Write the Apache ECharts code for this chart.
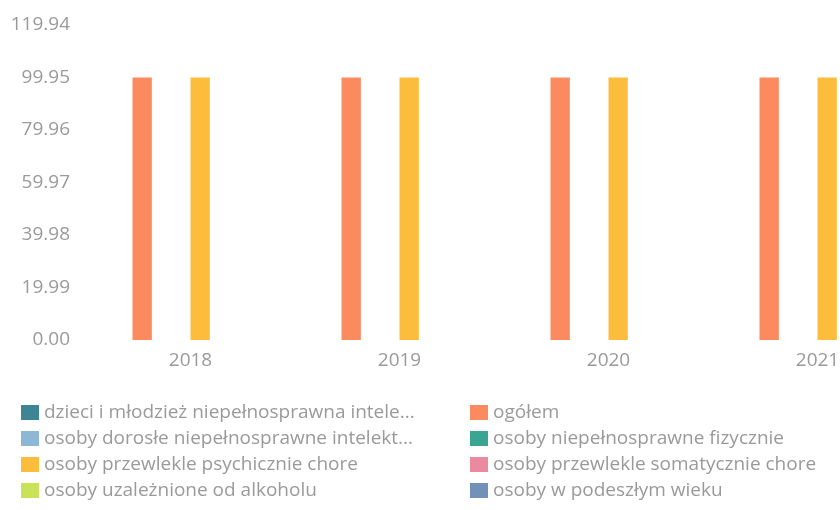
<!DOCTYPE html>
<html>
<head>
<meta charset="utf-8">
<script src="https://cdn.jsdelivr.net/npm/echarts@6/dist/echarts.min.js"></script>
<style>
  html, body { margin: 0; padding: 0; background: #fff; overflow: hidden; }
  /* wider than the window: the last category runs off the right edge */
  #chart { width: 922px; height: 510px; }
</style>
</head>
<body>
<div id="chart"></div>
<script>
// categories
var years = ['2018', '2019', '2020', '2021'];

// series names (alphabetical, as in the legend)
var names = [
  'dzieci i młodzież niepełnosprawna intelektualnie',
  'ogółem',
  'osoby dorosłe niepełnosprawne intelektualnie',
  'osoby niepełnosprawne fizycznie',
  'osoby przewlekle psychicznie chore',
  'osoby przewlekle somatycznie chore',
  'osoby uzależnione od alkoholu',
  'osoby w podeszłym wieku'
];
var colors = ['#3d8595', '#fb8a5f', '#8cb8d6', '#3aa592', '#fdbd3c', '#ea8aa0', '#c8e35a', '#7191b8'];

// values (only two series carry data)
var dzieci = [null, null, null, null];
var ogolem = [99.95, 99.95, 99.95, 99.95];
var dorosle = [null, null, null, null];
var fizycznie = [null, null, null, null];
var psychicznie = [99.95, 99.95, 99.95, 99.95];
var somatycznie = [null, null, null, null];
var alkohol = [null, null, null, null];
var wiek = [null, null, null, null];
var values = [dzieci, ogolem, dorosle, fizycznie, psychicznie, somatycznie, alkohol, wiek];

// y axis ticks
var yMax = 119.94;
var yStep = 19.99;

var chart = echarts.init(document.getElementById('chart'));
var font = 'Open Sans';
var grey = '#9a9a9a';
var fs = 19;

function cut(name, w) {
  return { name: name, textStyle: { width: w, overflow: 'truncate', ellipsis: '...' } };
}

var legendBase = {
  orient: 'vertical',
  top: 398,
  itemWidth: 18,
  itemHeight: 15,
  itemGap: 7,
  icon: 'rect',
  selectedMode: false,
  textStyle: { color: grey, fontFamily: font, fontSize: fs }
};

var option = {
  backgroundColor: '#fff',
  animation: false,
  color: colors,
  grid: { left: 86, right: 0, top: 25, bottom: 170, containLabel: false },
  legend: [
    Object.assign({}, legendBase, {
      left: 16,
      data: [cut(names[0], 402), cut(names[2], 396), names[4], names[6]]
    }),
    Object.assign({}, legendBase, {
      left: 465,
      data: [names[1], names[3], names[5], names[7]]
    })
  ],
  xAxis: {
    type: 'category',
    data: years,
    axisLine: { show: false },
    axisTick: { show: false },
    axisLabel: { color: grey, fontFamily: font, fontSize: fs, margin: 11 }
  },
  yAxis: {
    type: 'value',
    min: 0,
    max: yMax,
    interval: yStep,
    splitLine: { show: false },
    axisLine: { show: false },
    axisTick: { show: false },
    axisLabel: {
      color: grey, fontFamily: font, fontSize: fs, margin: 16,
      formatter: function (v) { return v.toFixed(2); }
    }
  },
  series: names.map(function (n, i) {
    return {
      name: n,
      type: 'bar',
      data: values[i],
      barGap: '0%',
      barCategoryGap: '26%'
    };
  })
};

chart.setOption(option);
</script>
</body>
</html>
